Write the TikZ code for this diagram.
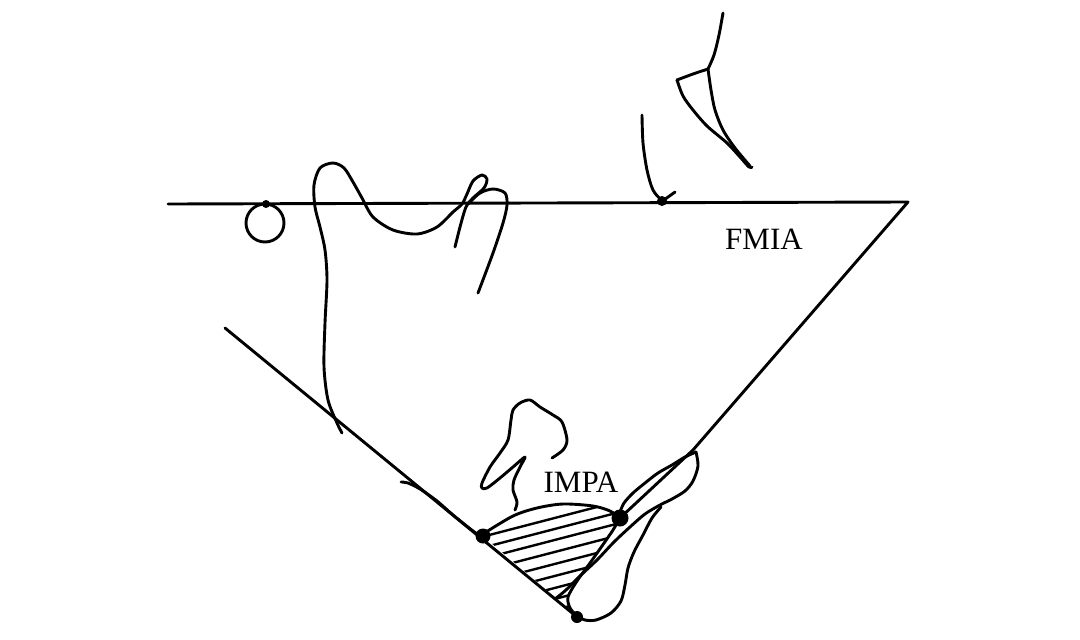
\documentclass[tikz,border=0pt]{standalone}
\usepackage{fontspec}
\setmainfont{Liberation Serif}
\begin{document}
\begin{tikzpicture}[x=1pt,y=-1pt,
  trace/.style={line width=2.9pt, line cap=round, line join=round},
  hatchline/.style={line width=2.4pt},
  dotpt/.style={fill=black},
  lbl/.style={font=\fontsize{31}{31}\selectfont, inner sep=0pt}]
\useasboundingbox (0,0) rectangle (1080,640);

% main reference points
\coordinate (FHL) at (168,204);
\coordinate (FHR) at (908,202);
\coordinate (MPL) at (225,328);
\coordinate (Me) at (577,617);
\coordinate (Itip) at (693,450);
\coordinate (Id) at (620,518);
\coordinate (Bd) at (483,536);
\coordinate (Po) at (266,204);
\coordinate (Or) at (662,201);

% Frankfort horizontal, incisor axis, mandibular plane
\draw[trace] (FHL) -- (FHR) -- (Itip) -- (Id);
\draw[trace] (MPL) -- (Me);

% ear rod
\draw[trace] (265,223) circle (19);

% ramus, condyle, sigmoid notch, coronoid
\draw[trace] plot[smooth] coordinates {(342,433) (337,423) (328,400) (324,367) (325,323) (327,280) (325,250) (320,227) (315,207) (314,185) (320,168) (333,163) (344,168) (353,182) (362,198) (373,217) (393,230) (417,234) (437,227) (453,212) (462,204) (467,194) (473,181) (482,175) (487,179) (484,188) (473,198) (466,207) (460,227) (455,247)};
\draw[trace] plot[smooth] coordinates {(468,204) (480,193) (493,189) (505,193) (507,205) (503,223) (493,253) (478,293)};

% orbit / upper structure
\draw[trace] plot[smooth] coordinates {(723,13) (719,35) (714,55) (708,69)};
\draw[trace] plot[smooth] coordinates {(708,69) (693,74) (677,80)};
\draw[trace] plot[smooth] coordinates {(677,80) (683,96) (693,110) (707,126) (727,143) (740,157) (749,167) (752,167)};
\draw[trace] plot[smooth] coordinates {(708,69) (711,90) (715,110) (723,130) (735,148) (750,166)};

% orbitale contour
\draw[trace] plot[smooth] coordinates {(642,115) (643,143) (647,170) (653,190) (662,200) (668,197) (675,192)};

% inferior border sliver
\draw[trace] plot[smooth] coordinates {(401,482) (408,483) (420,489) (437,501) (453,515) (473,531) (482,537)};

% molar
\draw[trace] plot[smooth] coordinates {(552,458) (563,450) (567,440) (562,422) (553,415) (540,407) (530,400) (520,403) (513,410) (511,420) (508,440) (500,453) (490,467) (482,483) (482,488) (487,488) (500,478) (513,467) (525,457) (520,467) (514,480) (513,490) (517,502) (515,510)};

% symphysis hatching
\begin{scope}
  \clip plot[smooth] coordinates {(483,534) (513,516) (537,508) (563,504) (593,506) (610,511) (620,518)}
    -- plot[smooth] coordinates {(620,518) (613,530) (602,546) (590,563) (577,581) (568,597) (570,608) (577,616)}
    -- (Bd) -- cycle;
  \foreach \c in {540,551,562,574,586,598,610,621,632}
    \draw[hatchline] (470,\c) -- (660,\c-49.4);
\end{scope}

% symphysis lingual/top contour
\draw[trace] plot[smooth] coordinates {(483,534) (513,516) (537,508) (563,504) (593,506) (610,511) (620,518)};
% inner contour (to menton)
\draw[trace] plot[smooth] coordinates {(620,518) (613,530) (602,546) (590,563) (577,581) (568,597) (570,608) (577,616)};

% lower incisor
\draw[trace] plot[smooth] coordinates {(696,452) (685,457) (672,465) (658,473) (645,483) (633,493) (624,503) (620,512)};
\draw[trace] plot[smooth] coordinates {(696,452) (698,466) (693,481) (685,491) (672,499) (660,505) (645,514) (630,527) (614,542) (597,560) (580,576) (566,590) (555,599)};

% chin contour
\draw[trace] plot[smooth] coordinates {(661,507) (652,518) (643,535) (634,552) (628,568) (625,585) (621,601) (611,613) (596,620) (585,620) (577,616)};

% points
\fill[dotpt] (Po) circle (4);
\fill[dotpt] (Or) circle (5);
\fill[dotpt] (Bd) circle (7.5);
\fill[dotpt] (Id) circle (8.5);
\fill[dotpt] (Me) circle (6);

% labels
\node[lbl] (fmia) at (764,239) {FMIA};
\node[lbl] (impa) at (581,482) {IMPA};
\end{tikzpicture}
\end{document}
